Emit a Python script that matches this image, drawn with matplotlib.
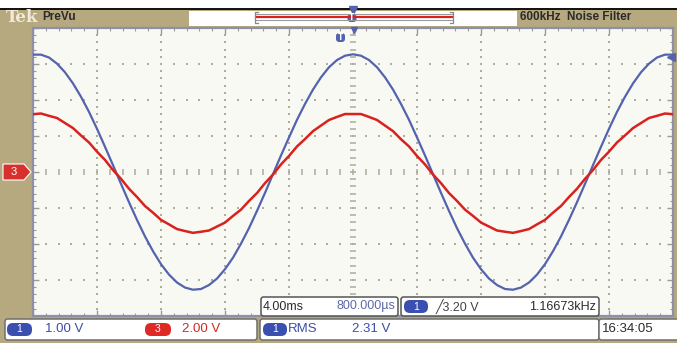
import numpy as np
import matplotlib
matplotlib.use("Agg")
import matplotlib.pyplot as plt
from matplotlib.patches import Rectangle, FancyBboxPatch, Polygon

# ---------------- acquisition record ----------------
# horizontal position of each sample, in screen divisions from the centre
t_div = np.arange(81) * 0.125 - 5.0

# channel 1 (volts)
ch1_volts = [3.26, 3.26, 3.18, 3.01, 2.77, 2.46, 2.09, 1.67, 1.20, 0.70,
             0.19, -0.33, -0.84, -1.33, -1.79, -2.20, -2.56, -2.85, -3.07, -3.21,
             -3.27, -3.25, -3.14, -2.96, -2.70, -2.38, -1.99, -1.56, -1.08, -0.58,
             -0.06, 0.46, 0.96, 1.45, 1.89, 2.29, 2.63, 2.91, 3.11, 3.23,
             3.27,
             3.23, 3.11, 2.91, 2.63, 2.29, 1.89, 1.45, 0.96, 0.46, -0.06,
             -0.58, -1.08, -1.56, -1.99, -2.38, -2.70, -2.96, -3.14, -3.25, -3.27,
             -3.21, -3.07, -2.85, -2.56, -2.20, -1.79, -1.33, -0.84, -0.33, 0.19,
             0.70, 1.20, 1.67, 2.09, 2.46, 2.77, 3.01, 3.18, 3.26, 3.26]

# channel 3 (volts)
ch3_volts = [3.21, 3.25, 3.12, 3.00, 2.72, 2.44, 2.03, 1.64, 1.13, 0.67,
             0.11, -0.38, -0.93, -1.39, -1.89, -2.26, -2.66, -2.91, -3.17, -3.28,
             -3.38, -3.32, -3.25, -3.03, -2.81, -2.44, -2.09, -1.61, -1.17, -0.62,
             -0.14, 0.42, 0.89, 1.42, 1.83, 2.27, 2.58, 2.89, 3.06, 3.22,
             3.22,
             3.22, 3.06, 2.89, 2.58, 2.27, 1.82, 1.42, 0.89, 0.42, -0.14,
             -0.62, -1.17, -1.61, -2.09, -2.44, -2.81, -3.03, -3.25, -3.32, -3.38,
             -3.28, -3.17, -2.91, -2.66, -2.26, -1.89, -1.39, -0.93, -0.38, 0.11,
             0.67, 1.13, 1.64, 2.03, 2.44, 2.72, 3.00, 3.12, 3.25, 3.21]

ch1_scale = 1.00      # V/div
ch3_scale = 2.00      # V/div
trig_level = 3.20     # V, channel 1 rising edge

# on-screen readouts
header_brand = "Tek"
header_mode = "PreVu"
header_filter = "600kHz  Noise Filter"
ch1_label = "1.00 V"
ch3_label = "2.00 V"
meas_label = "RMS"
meas_value = "2.31 V"
time_label = "4.00ms"
pos_label = "800.000\u00b5s"
trig_label = "3.20 V"
freq_label = "1.16673kHz"
clock_label = "16:34:05"

# ---------------- styling ----------------
TAN = "#b6a97f"
SCREEN = "#f9f9f4"
DOT = "#aeac9a"
BLUE = "#5463ad"
BLUE_TXT = "#3c4ea6"
RED = "#d9221e"
DARK = "#2b2b2b"
NARROW = ["Liberation Sans Narrow", "Liberation Sans", "DejaVu Sans"]

W, H = 677, 343
fig = plt.figure(figsize=(W / 100, H / 100), dpi=100)
fig.patch.set_facecolor(TAN)

# pixel-space background layer
bg = fig.add_axes([0, 0, 1, 1], zorder=0)
bg.set_xlim(0, W)
bg.set_ylim(H, 0)
bg.axis("off")
bg.add_patch(Rectangle((0, 0), W, 8, color="white", lw=0))
bg.add_patch(Rectangle((0, 8), W, 2, color="#151515", lw=0))

# graticule: 10 x 8 divisions
gx0, gx1, gy0, gy1 = 33, 673, 28, 316
ax = fig.add_axes([gx0 / W, 1 - gy1 / H, (gx1 - gx0) / W, (gy1 - gy0) / H], zorder=1)
ax.set_facecolor(SCREEN)
ax.set_xlim(-5, 5)
ax.set_ylim(-4, 4)
for s in ax.spines.values():
    s.set_color("#8d90a6")
    s.set_linewidth(1.6)
ax.set_xticks(np.arange(-5, 5.01, 1))
ax.set_yticks(np.arange(-4, 4.01, 1))
ax.set_xticks(np.arange(-5, 5.01, 0.2), minor=True)
ax.set_yticks(np.arange(-4, 4.01, 0.2), minor=True)
ax.tick_params(which="both", direction="in", top=True, right=True,
               labelbottom=False, labelleft=False, color="#9a9a9a")
ax.tick_params(which="major", length=4, width=1)
ax.tick_params(which="minor", length=2.5, width=0.8)

fine_x = np.arange(-5, 5.001, 0.2)
fine_y = np.arange(-4, 4.001, 0.2)
for gx in range(-4, 5):
    if gx != 0:
        ax.plot(np.full_like(fine_y, gx), fine_y, ls="none", marker="s",
                ms=1.5, mew=0, color=DOT, zorder=1)
for gy in range(-3, 4):
    if gy != 0:
        ax.plot(fine_x, np.full_like(fine_x, gy), ls="none", marker="s",
                ms=1.5, mew=0, color=DOT, zorder=1)
# centre lines carry minor tick dashes
ax.plot(np.zeros_like(fine_y), fine_y, ls="none", marker="_", ms=4, mew=1.1,
        color=DOT, zorder=1)
ax.plot(fine_x, np.zeros_like(fine_x), ls="none", marker="|", ms=4, mew=1.1,
        color=DOT, zorder=1)

# waveforms
ax.plot(t_div, np.asarray(ch1_volts) / ch1_scale, color=BLUE, lw=1.6, zorder=3)
ax.plot(t_div, np.asarray(ch3_volts) / ch3_scale, color=RED, lw=1.8, zorder=4)

# trigger level marker on the right edge
ax.plot([4.97], [trig_level / ch1_scale], marker="<", ms=6, color=BLUE,
        clip_on=False, zorder=5)

# ---------------- overlay layer (pixel space) ----------------
ov = fig.add_axes([0, 0, 1, 1], zorder=3)
ov.set_xlim(0, W)
ov.set_ylim(H, 0)
ov.axis("off")
ov.patch.set_alpha(0)

# header
ov.text(6, 17, header_brand, fontsize=12, fontweight="bold", family="DejaVu Serif",
        color="#f1ead6", va="center", ha="left")
ov.text(42, 17, header_mode, fontsize=8.5, fontweight="bold", family=NARROW,
        color=DARK, va="center", ha="left")
ov.add_patch(Rectangle((189, 11), 328, 15, facecolor="white", edgecolor="none"))
ov.plot([256, 452], [13.5, 13.5], color="#9a9a9a", lw=0.8)
ov.plot([256, 452], [16.5, 16.5], color=RED, lw=1.6)
ov.plot([256, 452], [19.5, 19.5], color="#9a9a9a", lw=0.8)
ov.plot([258, 255, 255, 258], [12, 12, 23, 23], color="#888888", lw=0.9)
ov.plot([450, 453, 453, 450], [12, 12, 23, 23], color="#888888", lw=0.9)
ov.text(520, 17, header_filter, fontsize=8.5, fontweight="bold", family=NARROW,
        color=DARK, va="center", ha="left")

# trigger-position markers
ov.plot([353], [9.5], marker="v", ms=6, color=BLUE)
ov.add_patch(FancyBboxPatch((347.5, 14), 9, 8, boxstyle="round,pad=0,rounding_size=3",
                            facecolor=BLUE, edgecolor="none"))
ov.text(352, 18, "T", fontsize=5.5, fontweight="bold", color="white",
        ha="center", va="center")
ov.plot([354], [30], marker="v", ms=5, color=BLUE)
ov.add_patch(FancyBboxPatch((336, 33), 9, 9, boxstyle="round,pad=0,rounding_size=3",
                            facecolor=BLUE, edgecolor="none"))
ov.text(340.5, 37.5, "T", fontsize=5.5, fontweight="bold", color="white",
        ha="center", va="center")

# channel 3 ground marker
ov.add_patch(Polygon([(3, 164), (24, 164), (31, 172), (24, 180), (3, 180)],
                     closed=True, facecolor="#d8302c", edgecolor="white", lw=0.8))
ov.text(14, 172, "3", fontsize=8, color="white", ha="center", va="center",
        family=NARROW)


def readout_box(x0, y0, x1, y1, edge="#6f6f6f"):
    ov.add_patch(FancyBboxPatch((x0, y0), x1 - x0, y1 - y0,
                                boxstyle="round,pad=0,rounding_size=2.5",
                                facecolor="white", edgecolor=edge, lw=1.1))


def badge(x0, x1, yc, num, color):
    ov.add_patch(FancyBboxPatch((x0, yc - 6.5), x1 - x0, 13,
                                boxstyle="round,pad=0,rounding_size=6",
                                facecolor=color, edgecolor="none"))
    ov.text((x0 + x1) / 2, yc, num, fontsize=7.5, color="white",
            ha="center", va="center", family=NARROW)


# readouts overlapping the graticule
readout_box(261, 297, 398, 316, edge="#555555")
ov.text(263, 306.5, time_label, fontsize=9, color=DARK, family=NARROW,
        ha="left", va="center")
ov.text(395, 306.5, pos_label, fontsize=9, color="#5d6aa6", family=NARROW,
        ha="right", va="center")
readout_box(401, 297, 599, 316, edge="#555555")
badge(404, 428, 306.5, "1", "#3a4fb0")
ov.text(436, 306.5, "\u2571" + trig_label, fontsize=9, color="#444444",
        family=NARROW + ["DejaVu Sans"], ha="left", va="center")
ov.text(596, 306.5, freq_label, fontsize=9, color=DARK, family=NARROW,
        ha="right", va="center")

# bottom status bar
readout_box(5, 319, 257, 340)
badge(7, 32, 329.5, "1", "#3a4fb0")
ov.text(45, 329.5, ch1_label, fontsize=9.5, color=BLUE_TXT, family=NARROW,
        ha="left", va="center")
badge(145, 171, 329.5, "3", "#de2a26")
ov.text(182, 329.5, ch3_label, fontsize=9.5, color="#d02a26", family=NARROW,
        ha="left", va="center")
readout_box(260, 319, 599, 340)
badge(263, 287, 329.5, "1", "#3a4fb0")
ov.text(288, 329.5, meas_label, fontsize=9.5, color=BLUE_TXT, family=NARROW,
        ha="left", va="center")
ov.text(352, 329.5, meas_value, fontsize=9.5, color=BLUE_TXT, family=NARROW,
        ha="left", va="center")
readout_box(599, 319, 680, 340)
ov.text(602, 329.5, clock_label, fontsize=9.5, color=DARK, family=NARROW,
        ha="left", va="center")

fig.savefig("out.png", dpi=100, facecolor=fig.get_facecolor())
